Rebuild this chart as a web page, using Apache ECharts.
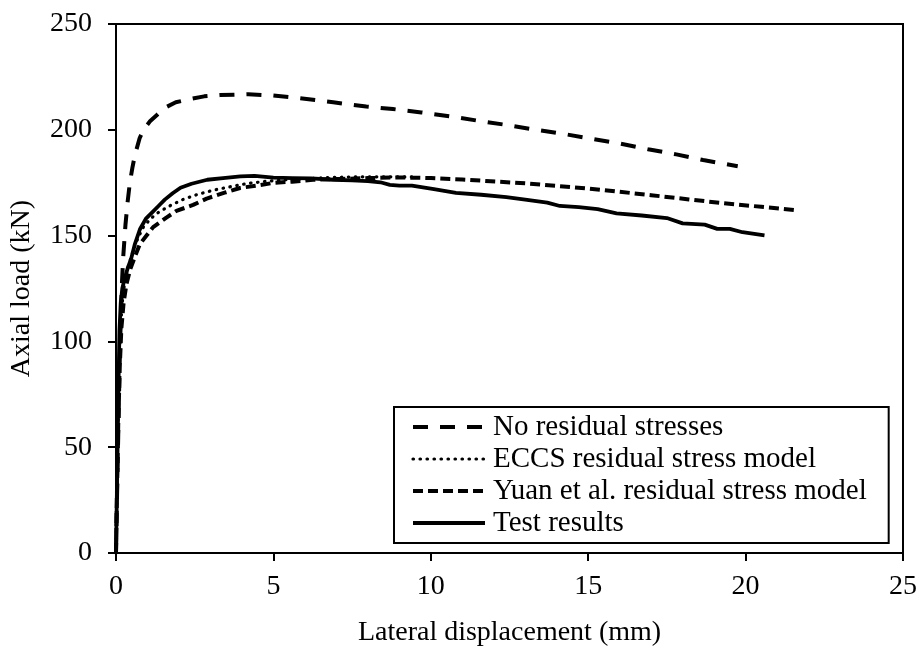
<!DOCTYPE html>
<html>
<head>
<meta charset="utf-8">
<script src="https://cdn.jsdelivr.net/npm/echarts@6/dist/echarts.min.js"></script>
<style>
html,body{margin:0;padding:0;background:#fff;}
#chart{width:920px;height:652px;}
</style>
</head>
<body>
<div id="chart"></div>
<script>
// Data (x: lateral displacement in mm, y: axial load in kN)
const seriesNames = ["No residual stresses", "ECCS residual stress model", "Yuan et al. residual stress model", "Test results"];

const noResX = [0, 0.03, 0.07, 0.11, 0.15, 0.19, 0.23, 0.3, 0.37, 0.44, 0.52, 0.6, 0.75, 0.87, 1.08, 1.3, 1.5, 1.9, 2.35, 2.8, 3.3, 4.2, 5.0, 5.8, 6.9, 7.95, 8.8, 9.7, 10.6, 11.5, 12.4, 13.3, 14.2, 15.1, 16.0, 16.9, 17.8, 18.65, 19.75];
const noResY = [0, 25, 55, 85, 110, 128, 140, 155, 166, 175, 182, 188, 196, 200, 204, 207, 210, 213, 214.5, 215.8, 216.4, 216.8, 216.2, 215, 213, 211, 209.8, 208.2, 206.4, 204.3, 202.3, 200.1, 198.1, 195.8, 193.5, 190.8, 188.4, 185.7, 182.8];

const eccsX = [0, 0.03, 0.07, 0.11, 0.16, 0.22, 0.3, 0.42, 0.55, 0.7, 0.87, 1.1, 1.35, 1.7, 2.13, 2.6, 3.1, 3.6, 4.2, 4.8, 5.3, 6.0, 6.9, 7.8, 8.7, 9.5];
const eccsY = [0, 30, 65, 92, 110, 122, 130, 137, 143, 149, 154, 158, 161, 164, 167.1, 169.5, 171.5, 173, 174.7, 175.7, 176.3, 176.9, 177.5, 177.8, 177.8, 177.7];

const yuanX = [0, 0.03, 0.07, 0.12, 0.17, 0.24, 0.33, 0.45, 0.6, 0.76, 0.97, 1.18, 1.6, 1.92, 2.45, 2.88, 3.5, 3.94, 4.57, 5.0, 5.6, 6.26, 7.2, 8.0, 9.0, 10.0, 11.0, 11.9, 13.0, 14.0, 15.05, 16.0, 17.0, 18.2, 19.3, 20.5, 21.6];
const yuanY = [0, 28, 60, 88, 106, 118, 127, 134, 140, 146, 150, 154, 158.5, 161.7, 164.5, 167.5, 170.5, 172.5, 173.9, 174.9, 175.5, 176.4, 176.8, 177.2, 177.5, 177.2, 176.5, 175.7, 174.7, 173.5, 172.2, 170.7, 169.1, 167.1, 165.3, 163.6, 162];

const testX = [0, 0.02, 0.05, 0.08, 0.11, 0.15, 0.2, 0.28, 0.38, 0.48, 0.6, 0.76, 0.95, 1.15, 1.35, 1.55, 1.8, 2.05, 2.4, 2.9, 3.4, 3.95, 4.4, 5.0, 5.6, 6.2, 6.9, 7.5, 8.0, 8.4, 8.7, 9.0, 9.4, 10.1, 10.8, 11.6, 12.4, 13.0, 13.7, 14.1, 14.7, 15.3, 15.9, 16.7, 17.5, 18.0, 18.7, 19.1, 19.5, 19.9, 20.6];
const testY = [0, 20, 50, 80, 105, 118, 125, 130, 135, 139, 146, 153, 158, 161, 164, 167, 170, 172.6, 174.5, 176.4, 177.2, 178, 178.2, 177.4, 177.2, 177, 176.4, 176.1, 175.7, 175.2, 174, 173.6, 173.6, 172, 170.2, 169.3, 168.2, 167, 165.6, 164, 163.5, 162.5, 160.5, 159.5, 158.3, 155.8, 155.2, 153.2, 153.2, 151.6, 150.1];

const xTicks = [0, 5, 10, 15, 20, 25];
const yTicks = [0, 50, 100, 150, 200, 250];

function pairs(xs, ys) { return xs.map((x, i) => [x, ys[i]]); }

const FONT = "'Liberation Serif', 'Times New Roman', serif";
const chart = echarts.init(document.getElementById('chart'), null, {renderer: 'canvas'});

const styles = [
  {color: '#000', width: 4, type: [15, 12]},
  {color: '#000', width: 3.2, type: [0.5, 6.5], cap: 'round'},
  {color: '#000', width: 4, type: [10, 5]},
  {color: '#000', width: 3.8, type: 'solid'}
];
const lines = [pairs(noResX, noResY), pairs(eccsX, eccsY), pairs(yuanX, yuanY), pairs(testX, testY)];

const axisCommon = {
  type: 'value',
  splitLine: {show: false},
  axisLine: {show: true, lineStyle: {color: '#000', width: 2}},
  axisTick: {show: true, inside: false, length: 8, lineStyle: {color: '#000', width: 2}},
  axisLabel: {color: '#000', fontFamily: FONT, fontSize: 28},
  nameTextStyle: {color: '#000', fontFamily: FONT, fontSize: 28},
  nameLocation: 'middle'
};

chart.setOption({
  animation: false,
  backgroundColor: '#fff',
  grid: {left: 116, right: 16, top: 24, bottom: 91, show: true, borderColor: '#000', borderWidth: 2, backgroundColor: 'transparent'},
  xAxis: Object.assign({}, axisCommon, {
    min: xTicks[0], max: xTicks[xTicks.length - 1], interval: 5,
    name: 'Lateral displacement (mm)', nameGap: 66,
    axisLabel: Object.assign({}, axisCommon.axisLabel, {margin: 20})
  }),
  yAxis: Object.assign({}, axisCommon, {
    min: yTicks[0], max: yTicks[yTicks.length - 1], interval: 50,
    name: 'Axial load (kN)', nameGap: 80,
    axisLabel: Object.assign({}, axisCommon.axisLabel, {margin: 24})
  }),
  legend: {
    orient: 'vertical',
    left: 394, top: 407,
    backgroundColor: '#fff',
    borderColor: '#000', borderWidth: 2,
    padding: [5, 22, 5, 17],
    itemWidth: 72, itemHeight: 16, itemGap: 2,
    itemStyle: {opacity: 0},
    textStyle: {color: '#000', fontFamily: FONT, fontSize: 29, lineHeight: 30, padding: [0, 0, 0, 3]},
    data: seriesNames.map((n, i) => ({name: n, lineStyle: styles[i], itemStyle: {opacity: 0}}))
  },
  series: seriesNames.map((n, i) => ({
    name: n, type: 'line', symbol: 'none', smooth: false, z: [3, 4, 3, 5][i],
    lineStyle: styles[i], itemStyle: {color: '#000'},
    data: lines[i]
  }))
});
</script>
</body>
</html>
